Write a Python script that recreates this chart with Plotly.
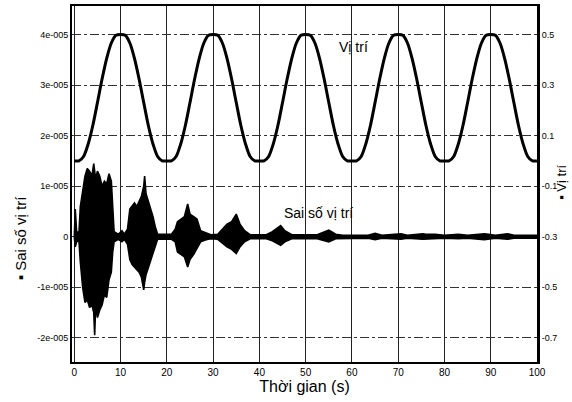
import plotly.graph_objects as go

# ---- data ----
pos_t = list(range(0, 101))
pos_val = [
    0.0, 0.0, 0.0175, 0.067, 0.14, 0.231, 0.324, 0.406, 0.4665, 0.497,
    0.5, 0.497, 0.4665, 0.406, 0.324, 0.231, 0.14, 0.067, 0.0175, 0.0,
    0.0, 0.0, 0.0175, 0.067, 0.14, 0.231, 0.324, 0.406, 0.4665, 0.497,
    0.5, 0.497, 0.4665, 0.406, 0.324, 0.231, 0.14, 0.067, 0.0175, 0.0,
    0.0, 0.0, 0.0175, 0.067, 0.14, 0.231, 0.324, 0.406, 0.4665, 0.497,
    0.5, 0.497, 0.4665, 0.406, 0.324, 0.231, 0.14, 0.067, 0.0175, 0.0,
    0.0, 0.0, 0.0175, 0.067, 0.14, 0.231, 0.324, 0.406, 0.4665, 0.497,
    0.5, 0.497, 0.4665, 0.406, 0.324, 0.231, 0.14, 0.067, 0.0175, 0.0,
    0.0, 0.0, 0.0175, 0.067, 0.14, 0.231, 0.324, 0.406, 0.4665, 0.497,
    0.5, 0.497, 0.4665, 0.406, 0.324, 0.231, 0.14, 0.067, 0.0175, 0.0,
    0.0,
]

# error envelope (upper / lower) of the fast oscillating position error
err_t = [0.0, 0.2, 0.5, 1.0, 1.3, 1.8, 2.3, 2.8, 3.3, 3.8, 4.2, 4.4, 4.6, 5.0,
         5.5, 6.0, 6.5, 7.0, 7.5, 8.0, 8.3, 8.6, 9.5, 10.3, 10.8, 11.5, 12.0,
         12.5, 13.0, 13.5, 14.0, 14.5, 15.0, 15.2, 15.5, 16.0, 16.5, 17.0,
         17.5, 18.0, 21.0, 21.8, 22.3, 23.0, 23.8, 24.5, 25.0, 25.8, 26.5,
         27.3, 28.5, 29.5, 31.0, 32.0, 33.0, 34.0, 35.0, 35.8, 36.8, 38.0,
         41.5, 42.8, 44.0, 44.6, 45.5, 47.0, 52.5, 54.0, 55.0, 56.5, 58.0,
         63.5, 65.0, 66.5, 70.6, 72.0, 75.3, 76.0, 78.0, 80.0, 83.0, 85.0,
         88.6, 89.5, 91.0, 93.6, 95.0, 100.0]
err_hi = [0.0, 0.55e-5, 0.1e-5, 0.08e-5, 0.6e-5, 0.9e-5, 1.2e-5, 1.35e-5,
          1.3e-5, 1.2e-5, 1.45e-5, 1.3e-5, 1.15e-5, 1.3e-5, 1.2e-5, 1.0e-5,
          1.1e-5, 1.05e-5, 1.25e-5, 1.1e-5, 0.5e-5, 0.1e-5, 0.05e-5, 0.12e-5,
          0.05e-5, 0.15e-5, 0.55e-5, 0.6e-5, 0.67e-5, 0.6e-5, 0.72e-5, 0.8e-5,
          1.0e-5, 1.2e-5, 0.85e-5, 0.7e-5, 0.6e-5, 0.4e-5, 0.2e-5, 0.05e-5,
          0.05e-5, 0.15e-5, 0.3e-5, 0.35e-5, 0.4e-5, 0.65e-5, 0.45e-5, 0.4e-5,
          0.35e-5, 0.12e-5, 0.08e-5, 0.04e-5, 0.05e-5, 0.15e-5, 0.25e-5,
          0.3e-5, 0.45e-5, 0.25e-5, 0.12e-5, 0.04e-5, 0.04e-5, 0.1e-5,
          0.18e-5, 0.22e-5, 0.12e-5, 0.04e-5, 0.04e-5, 0.1e-5, 0.13e-5,
          0.05e-5, 0.03e-5, 0.03e-5, 0.07e-5, 0.03e-5, 0.06e-5, 0.03e-5,
          0.06e-5, 0.05e-5, 0.05e-5, 0.03e-5, 0.05e-5, 0.03e-5, 0.06e-5,
          0.05e-5, 0.03e-5, 0.06e-5, 0.03e-5, 0.03e-5]
err_lo = [0.0, -0.2e-5, -0.1e-5, -0.08e-5, -0.5e-5, -1.0e-5, -1.3e-5,
          -1.25e-5, -1.4e-5, -1.35e-5, -1.5e-5, -1.95e-5, -1.4e-5, -1.6e-5,
          -1.45e-5, -1.35e-5, -1.15e-5, -1.2e-5, -0.85e-5, -0.7e-5, -0.3e-5,
          -0.1e-5, -0.05e-5, -0.1e-5, -0.05e-5, -0.15e-5, -0.45e-5, -0.55e-5,
          -0.6e-5, -0.65e-5, -0.7e-5, -0.8e-5, -1.05e-5, -0.9e-5, -0.75e-5,
          -0.6e-5, -0.45e-5, -0.3e-5, -0.2e-5, -0.05e-5, -0.05e-5, -0.1e-5,
          -0.3e-5, -0.35e-5, -0.4e-5, -0.6e-5, -0.45e-5, -0.35e-5, -0.25e-5,
          -0.1e-5, -0.06e-5, -0.04e-5, -0.05e-5, -0.12e-5, -0.2e-5, -0.25e-5,
          -0.33e-5, -0.2e-5, -0.1e-5, -0.04e-5, -0.04e-5, -0.08e-5, -0.14e-5,
          -0.17e-5, -0.1e-5, -0.04e-5, -0.04e-5, -0.08e-5, -0.1e-5, -0.04e-5,
          -0.03e-5, -0.03e-5, -0.06e-5, -0.03e-5, -0.05e-5, -0.03e-5,
          -0.05e-5, -0.04e-5, -0.04e-5, -0.03e-5, -0.04e-5, -0.03e-5,
          -0.06e-5, -0.05e-5, -0.03e-5, -0.05e-5, -0.03e-5, -0.03e-5]

x_ticks = [0, 10, 20, 30, 40, 50, 60, 70, 80, 90, 100]
left_ticks = [-2e-5, -1e-5, 0, 1e-5, 2e-5, 3e-5, 4e-5]
left_ticktext = ["-2e-005", "-1e-005", "0", "1e-005", "2e-005", "3e-005", "4e-005"]
right_ticks = [-0.7, -0.5, -0.3, -0.1, 0.1, 0.3, 0.5]
right_ticktext = ["-0.7", "-0.5", "-0.3", "-0.1", "0.1", "0.3", "0.5"]

FONT = "Liberation Sans, Arial, sans-serif"

fig = go.Figure()

# error envelope as a filled polygon
fig.add_trace(go.Scatter(
    x=err_t + err_t[::-1], y=err_hi + err_lo[::-1],
    fill="toself", fillcolor="black", mode="lines",
    line=dict(color="black", width=1.6), yaxis="y", hoverinfo="skip"))

# position curve (right axis)
fig.add_trace(go.Scatter(
    x=pos_t, y=pos_val, mode="lines", yaxis="y2",
    line=dict(color="black", width=3, shape="spline", smoothing=0.8)))

fig.update_layout(
    width=572, height=402,
    margin=dict(l=72, r=35, t=4, b=40),
    paper_bgcolor="white", plot_bgcolor="white",
    showlegend=False,
    font=dict(family=FONT, color="black"),
    xaxis=dict(
        range=[-0.5, 100], tickvals=x_ticks, ticks="",
        showgrid=True, gridcolor="#222", gridwidth=1,
        showline=True, linecolor="black", linewidth=2, mirror=True,
        zeroline=False, tickfont=dict(size=10),
        title=dict(text="Thời gian (s)", font=dict(size=16), standoff=4)),
    yaxis=dict(
        range=[-2.48e-5, 4.57e-5], tickvals=left_ticks, ticktext=left_ticktext,
        ticks="", showgrid=True, gridcolor="#333", gridwidth=1, griddash="dashdot",
        showline=True, linecolor="black", linewidth=2,
        zeroline=False, tickfont=dict(size=9)),
    yaxis2=dict(
        range=[-0.796, 0.613], tickvals=right_ticks, ticktext=right_ticktext,
        overlaying="y", side="right", ticks="", showgrid=False,
        showline=True, linecolor="black", linewidth=3,
        zeroline=False, tickfont=dict(size=9)),
    annotations=[
        dict(text="▪ Sai số vị trí", xref="paper", yref="paper",
             x=-0.112, y=0.35, xanchor="center", yanchor="middle",
             textangle=-90, showarrow=False, font=dict(size=15)),
        dict(text="▪ Vị trí", xref="paper", yref="paper",
             x=1.053, y=0.505, xanchor="center", yanchor="middle",
             textangle=-90, showarrow=False, font=dict(size=13)),
        dict(text="Vị trí", xref="x", yref="y2", x=60.4, y=0.45,
             showarrow=False, font=dict(size=14)),
        dict(text="Sai số vị trí", xref="x", yref="y", x=52.8, y=0.47e-5,
             showarrow=False, font=dict(size=14)),
    ],
)

fig.write_html(
    "out.html",
    config={"displayModeBar": False},
    post_script="document.body.style.margin='0';document.body.style.overflow='hidden';",
)
